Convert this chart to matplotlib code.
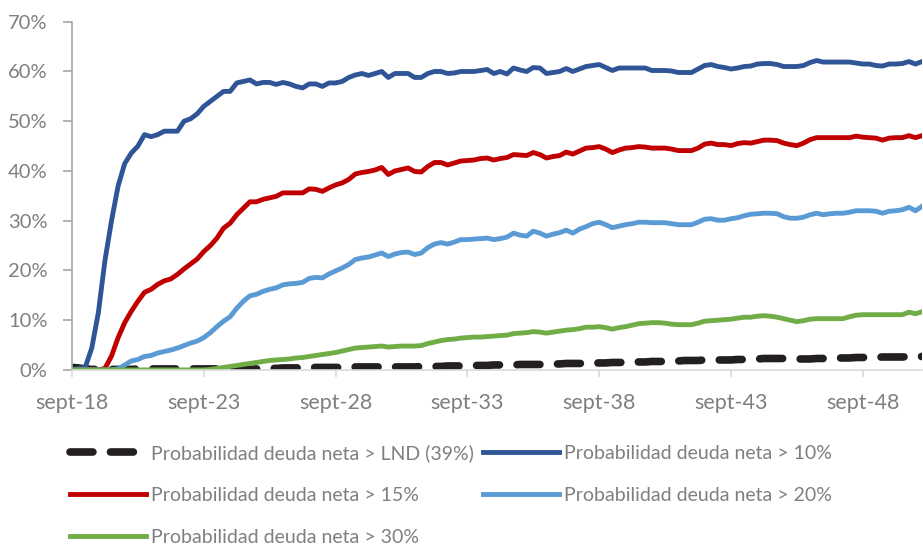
import matplotlib
matplotlib.use('Agg')
import matplotlib.pyplot as plt
import numpy as np
from matplotlib.ticker import FuncFormatter

# quarterly data, sept-18 ... dec-50 (130 points), values in %
lnd = [0.5, 0.4, 0.2, 0.1, 0.1, 0.1, 0.1, 0.1, 0.1, 0.1,
       0.2, 0.2, 0.2, 0.2, 0.2, 0.2, 0.2, 0.2, 0.2, 0.2,
       0.2, 0.2, 0.2, 0.1, 0.1, 0.1, 0.1, 0.1, 0.2, 0.2,
       0.3, 0.3, 0.4, 0.4, 0.4, 0.5, 0.5, 0.5, 0.5, 0.5,
       0.5, 0.5, 0.5, 0.6, 0.6, 0.6, 0.6, 0.6, 0.6, 0.6,
       0.6, 0.6, 0.6, 0.7, 0.7, 0.7, 0.7, 0.8, 0.8, 0.8,
       0.8, 0.9, 0.9, 0.9, 1.0, 1.0, 1.0, 1.0, 1.1, 1.1,
       1.1, 1.1, 1.2, 1.2, 1.2, 1.3, 1.3, 1.3, 1.3, 1.4,
       1.4, 1.4, 1.5, 1.5, 1.5, 1.6, 1.6, 1.6, 1.7, 1.7,
       1.7, 1.8, 1.8, 1.9, 1.9, 1.9, 2.0, 2.0, 2.0, 2.0,
       2.0, 2.1, 2.1, 2.2, 2.2, 2.3, 2.3, 2.3, 2.3, 2.2,
       2.2, 2.2, 2.2, 2.3, 2.3, 2.3, 2.4, 2.4, 2.4, 2.5,
       2.5, 2.5, 2.5, 2.6, 2.6, 2.6, 2.6, 2.7, 2.7, 2.7]

p10 = [0.0, 0.3, 0.5, 4.4, 11.5, 22.0, 30.0, 37.0, 41.5, 43.6,
       45.0, 47.3, 46.9, 47.3, 48.0, 48.0, 48.0, 50.0, 50.5, 51.5,
       53.0, 54.0, 55.0, 56.0, 56.0, 57.7, 58.0, 58.3, 57.5, 57.8,
       57.8, 57.4, 57.8, 57.5, 57.0, 56.7, 57.5, 57.5, 57.0, 57.7,
       57.7, 58.0, 58.8, 59.3, 59.6, 59.2, 59.6, 60.0, 58.8, 59.6,
       59.6, 59.6, 58.8, 58.8, 59.6, 60.0, 60.0, 59.6, 59.7, 60.0,
       60.0, 60.0, 60.2, 60.4, 59.6, 60.0, 59.5, 60.7, 60.3, 60.0,
       60.8, 60.7, 59.6, 59.8, 60.0, 60.6, 60.0, 60.5, 61.0, 61.2,
       61.4, 60.8, 60.2, 60.7, 60.7, 60.7, 60.7, 60.7, 60.2, 60.2,
       60.2, 60.1, 59.8, 59.8, 59.8, 60.5, 61.2, 61.4, 61.0, 60.8,
       60.5, 60.7, 61.0, 61.1, 61.5, 61.6, 61.6, 61.4, 61.0, 61.0,
       61.0, 61.2, 61.8, 62.2, 61.9, 61.9, 61.9, 61.9, 61.9, 61.7,
       61.5, 61.5, 61.2, 61.1, 61.5, 61.5, 61.6, 62.0, 61.5, 62.0]

p15 = [0.0, 0.0, 0.0, 0.0, 0.0, 0.3, 2.8, 6.5, 9.5, 11.8,
       13.8, 15.6, 16.2, 17.2, 17.9, 18.3, 19.2, 20.3, 21.3, 22.3,
       23.8, 25.0, 26.5, 28.5, 29.5, 31.2, 32.5, 33.8, 33.8, 34.3,
       34.6, 34.9, 35.6, 35.6, 35.6, 35.6, 36.4, 36.3, 35.9, 36.6,
       37.2, 37.6, 38.3, 39.4, 39.7, 39.9, 40.2, 40.7, 39.3, 40.0,
       40.3, 40.6, 39.9, 39.8, 40.9, 41.7, 41.7, 41.2, 41.6, 42.0,
       42.1, 42.2, 42.5, 42.6, 42.2, 42.5, 42.7, 43.3, 43.2, 43.1,
       43.7, 43.3, 42.6, 42.9, 43.1, 43.8, 43.4, 44.0, 44.6, 44.7,
       44.9, 44.4, 43.7, 44.2, 44.6, 44.7, 44.9, 44.8, 44.6, 44.6,
       44.6, 44.4, 44.1, 44.1, 44.1, 44.6, 45.4, 45.6, 45.3, 45.3,
       45.1, 45.5, 45.7, 45.6, 45.9, 46.2, 46.2, 46.1, 45.6, 45.3,
       45.1, 45.6, 46.3, 46.7, 46.7, 46.7, 46.7, 46.7, 46.7, 47.0,
       46.8, 46.7, 46.6, 46.2, 46.6, 46.7, 46.7, 47.1, 46.7, 47.1]

p20 = [0.0, 0.0, 0.0, 0.0, 0.0, 0.0, 0.0, 0.2, 1.0, 1.8,
       2.1, 2.7, 2.9, 3.4, 3.7, 4.0, 4.4, 4.9, 5.4, 5.8,
       6.5, 7.5, 8.7, 9.8, 10.7, 12.4, 13.8, 14.9, 15.2, 15.8,
       16.2, 16.5, 17.1, 17.3, 17.4, 17.6, 18.4, 18.6, 18.5, 19.3,
       19.9, 20.5, 21.2, 22.2, 22.5, 22.7, 23.1, 23.5, 22.8, 23.3,
       23.6, 23.7, 23.2, 23.5, 24.6, 25.3, 25.6, 25.3, 25.7, 26.2,
       26.2, 26.3, 26.4, 26.5, 26.2, 26.4, 26.7, 27.5, 27.1, 26.9,
       27.9, 27.5, 26.9, 27.3, 27.6, 28.1, 27.5, 28.3, 28.8, 29.4,
       29.7, 29.2, 28.6, 28.9, 29.2, 29.4, 29.7, 29.7, 29.6, 29.6,
       29.6, 29.4, 29.2, 29.2, 29.2, 29.7, 30.3, 30.4, 30.1, 30.1,
       30.4, 30.6, 31.0, 31.3, 31.4, 31.5, 31.5, 31.4, 30.8, 30.5,
       30.5, 30.7, 31.2, 31.5, 31.2, 31.4, 31.5, 31.5, 31.7, 32.0,
       32.0, 32.0, 31.9, 31.5, 31.9, 32.0, 32.2, 32.7, 32.0, 32.9]

p30 = [0.0, 0.0, 0.0, 0.0, 0.0, 0.0, 0.0, 0.0, 0.0, 0.0,
       0.0, 0.0, 0.0, 0.0, 0.0, 0.0, 0.0, 0.0, 0.0, 0.0,
       0.0, 0.1, 0.3, 0.5, 0.7, 0.9, 1.1, 1.3, 1.5, 1.7,
       1.9, 2.0, 2.1, 2.2, 2.4, 2.5, 2.7, 2.9, 3.1, 3.3,
       3.5, 3.8, 4.1, 4.4, 4.5, 4.6, 4.7, 4.8, 4.6, 4.7,
       4.8, 4.8, 4.8, 4.9, 5.3, 5.6, 5.9, 6.1, 6.2, 6.4,
       6.5, 6.6, 6.6, 6.7, 6.8, 6.9, 7.0, 7.3, 7.4, 7.5,
       7.7, 7.6, 7.4, 7.6, 7.8, 8.0, 8.1, 8.3, 8.6, 8.6,
       8.7, 8.5, 8.2, 8.5, 8.7, 9.0, 9.3, 9.4, 9.5, 9.5,
       9.4, 9.2, 9.1, 9.1, 9.1, 9.4, 9.8, 9.9, 10.0, 10.1,
       10.2, 10.4, 10.6, 10.6, 10.8, 10.9, 10.8, 10.6, 10.3, 10.0,
       9.7, 9.9, 10.2, 10.3, 10.3, 10.3, 10.3, 10.3, 10.7, 11.0,
       11.1, 11.1, 11.1, 11.1, 11.1, 11.1, 11.1, 11.6, 11.3, 11.7]

tick_labels = ['sept-18', 'sept-23', 'sept-28', 'sept-33', 'sept-38', 'sept-43', 'sept-48']

labels = ['Probabilidad deuda neta > LND (39%)',
          'Probabilidad deuda neta > 10%',
          'Probabilidad deuda neta > 15%',
          'Probabilidad deuda neta > 20%',
          'Probabilidad deuda neta > 30%']

plt.rcParams['font.family'] = ['Lato', 'DejaVu Sans']

fig = plt.figure(figsize=(9.23, 5.44), dpi=100)
ax = fig.add_axes([0.078, 0.32, 0.921, 0.64])

x = np.arange(len(p10))

l0, = ax.plot(x, lnd, color='#231f20', lw=5.5, dashes=(3, 2.3),
              dash_capstyle='round', solid_capstyle='round')
l1, = ax.plot(x, p10, color='#2f5597', lw=3.5)
l2, = ax.plot(x, p15, color='#c00000', lw=3.5)
l3, = ax.plot(x, p20, color='#5b9bd5', lw=3.5)
l4, = ax.plot(x, p30, color='#70ad47', lw=3.5)

ax.set_xlim(0, len(p10) - 1)
ax.set_ylim(0, 70)
ax.set_yticks(np.arange(0, 71, 10))
ax.yaxis.set_major_formatter(FuncFormatter(lambda v, p: f'{int(v)}%'))
ax.set_xticks(np.arange(0, 121, 20))
ax.set_xticklabels(tick_labels)

for s in ['top', 'right']:
    ax.spines[s].set_visible(False)
ax.spines['left'].set_color('#a6a6a6')
ax.spines['bottom'].set_color('#d9d9d9')
ax.spines['left'].set_linewidth(1.2)
ax.spines['bottom'].set_linewidth(1.2)
ax.tick_params(axis='y', colors='#a6a6a6', labelcolor='#7f7f7f', labelsize=14.5,
               length=6.5, width=1.2, pad=11)
ax.tick_params(axis='x', colors='#d9d9d9', labelcolor='#7f7f7f', labelsize=15.5,
               length=5, width=1.2, pad=11.5)

handles = [l0, l2, l4, l1, l3]
leg_labels = [labels[0], labels[2], labels[4], labels[1], labels[3]]
fig.legend(handles, leg_labels, loc='upper left', bbox_to_anchor=(0.076, 0.184),
           ncol=2, frameon=False, fontsize=14, handlelength=3.9, handletextpad=0.27,
           columnspacing=0.45, labelspacing=1.28, borderpad=0, borderaxespad=0,
           labelcolor='#7f7f7f')

plt.savefig('out.png', dpi=100)
